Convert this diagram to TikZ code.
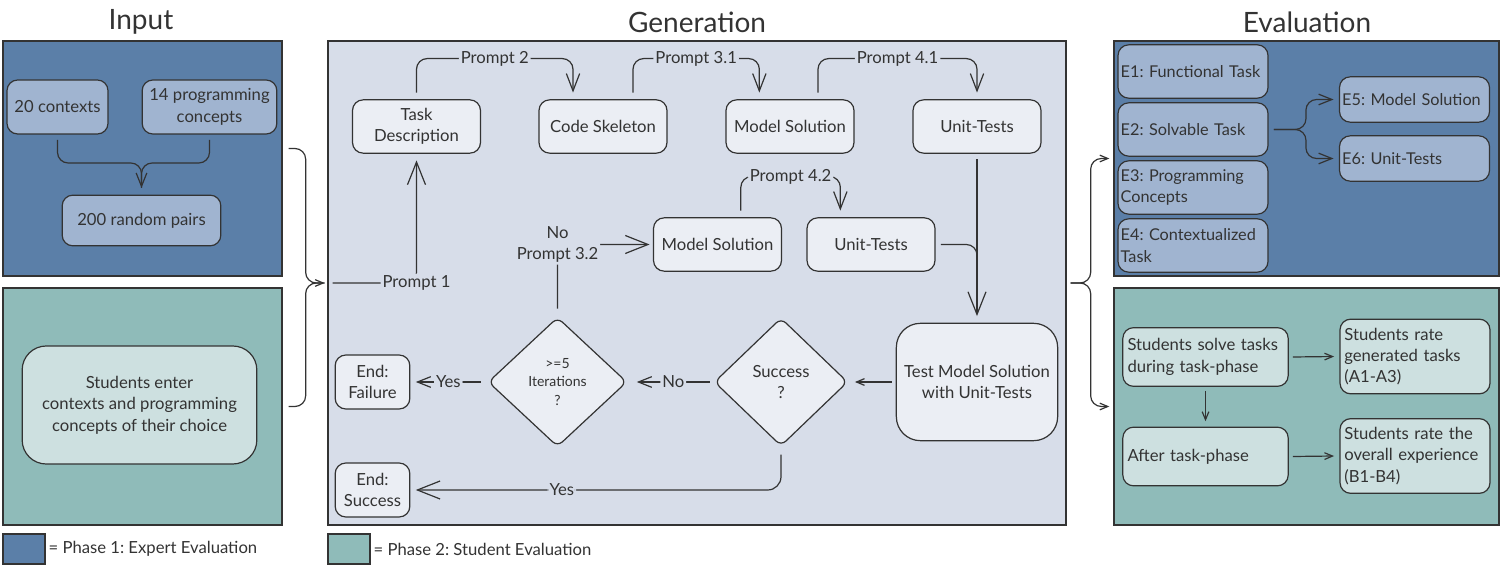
\documentclass[tikz,border=0pt]{standalone}
\usepackage{fontspec}
\setmainfont{Lato}
\usepackage{tikz}
\usetikzlibrary{arrows.meta}
\usetikzlibrary{shapes.geometric,positioning}

\definecolor{expblue}{HTML}{5B7FA8}
\definecolor{expnode}{HTML}{A0B4D0}
\definecolor{stuteal}{HTML}{8FBBB9}
\definecolor{stunode}{HTML}{CDE0E0}
\definecolor{genfill}{HTML}{D7DDE9}
\definecolor{gennode}{HTML}{EBEEF4}
\definecolor{ink}{HTML}{333333}

\tikzset{
    every node/.style={text=ink, font=\fontsize{12.5}{16}\selectfont},
    region/.style={draw=ink, line width=1pt, inner sep=0pt},
    rbox/.style={draw=ink, line width=0.9pt, rounded corners=8pt, align=center, inner sep=4pt},
    genbox/.style={rbox, fill=gennode, minimum width=96pt, minimum height=40pt},
    inbox/.style={rbox, fill=expnode, minimum height=40.5pt},
    evbox/.style={rbox, fill=expnode, minimum width=112.5pt, minimum height=40pt,
        font=\fontsize{12.2}{16}\selectfont, inner sep=2pt, text width=108.5pt, align=left},
    stubox/.style={rbox, fill=stunode, minimum width=124pt, minimum height=44pt,
        inner sep=3pt, text width=117pt, align=left},
    decide/.style={diamond, draw=ink, line width=0.9pt, fill=gennode,
        rounded corners=5pt, inner sep=0pt, align=center},
    lbl/.style={fill=genfill, inner sep=1.5pt},
    conn/.style={draw=ink, line width=0.9pt, rounded corners=8pt},
    hugetip/.style={-{Straight Barb[length=17pt,width=13.5pt]}},
    bigtip/.style={-{Straight Barb[length=13pt,width=10pt]}},
    midtip/.style={-{Straight Barb[length=10pt,width=8pt]}},
    smalltip/.style={-{Straight Barb[length=6pt,width=5pt]}},
    title/.style={font=\fontsize{21}{25}\selectfont},
}

\begin{document}
\frenchspacing
\begin{tikzpicture}[x=0.75pt,y=-0.75pt]
        \useasboundingbox (0,0) rectangle (1502,566);

        \node[title] (intitle) at (141,22) {Input};
        \node[title] (gentitle) at (697,22) {Generation};
        \node[title] (evtitle) at (1307,22) {Evaluation};

        \node[region, fill=expblue, minimum width=209.25pt, minimum height=176.25pt] (inexp) at (142.5,158.5) {};
        \node[region, fill=stuteal, minimum width=209.25pt, minimum height=177.75pt] (instu) at (142.5,406.5) {};
        \node[region, fill=genfill, minimum width=553.5pt, minimum height=363pt] (gen) at (697,283) {};
        \node[region, fill=expblue, minimum width=288.75pt, minimum height=176.25pt] (evexp) at (1306.5,158.5) {};
        \node[region, fill=stuteal, minimum width=288.75pt, minimum height=177.75pt] (evstu) at (1306.5,406.5) {};

        \node[inbox, minimum width=75.75pt] (ctx) at (57.5,107) {20 contexts};
        \node[inbox, minimum width=101pt] (concepts) at (209.5,107) {14 programming\\concepts};
        \node[inbox, minimum width=119pt, minimum height=38pt] (pairs) at (141.5,220.5) {200 random pairs};
        \coordinate (merge) at (141.5,163);
        \draw[conn] ([yshift=-4pt]ctx.south) |- (merge) -- ([yshift=5pt]pairs.north);
        \draw[conn, midtip] ([yshift=-4pt]concepts.south) |- (merge) -- ([yshift=5pt]pairs.north);
        \node[rbox, fill=stunode, rounded corners=18pt, minimum width=176pt, minimum height=88.5pt] (enter) at (139.5,405)
            {Students enter\\contexts and programming\\concepts of their choice};

        \draw[conn] ([xshift=4.5pt,yshift=7.5pt]inexp.east) -- ++(17,0) |- ([xshift=-2pt]gen.west);
        \draw[conn, smalltip] ([xshift=4.5pt]instu.east) -- ++(17,0) |- ([xshift=-2pt]gen.west);

        \foreach \nm/\x/\txt in {taskdesc/416.5/{Task\\Description}, skeleton/603/{Code Skeleton},
                modelsol/790/{Model Solution}, unittests/977/{Unit-Tests}}
            \node[genbox] (\nm) at (\x,126.5) {\txt};
        \node[genbox] (modelsolb) at (717.5,244.5) {Model Solution};
        \node[genbox] (unittestsb) at (871,244.5) {Unit-Tests};
        \node[rbox, fill=gennode, rounded corners=18pt, inner sep=2pt, minimum width=121pt, minimum height=88pt] (testbox) at (977,382)
            {Test Model Solution\\with Unit-Tests};
        \node[decide, minimum width=100pt, minimum height=96pt] (success) at (781,382) {Success\\?};
        \node[decide, minimum width=104pt, minimum height=97pt, font=\fontsize{10.5}{14}\selectfont] (iter) at (557.5,382)
            {>=5\\Iterations\\?};
        \node[genbox, minimum width=56pt, minimum height=40.5pt] (failure) at (372.5,382) {End:\\Failure};
        \node[genbox, minimum width=56pt, minimum height=40.5pt] (endsucc) at (372.5,490) {End:\\Success};

        \draw[conn, hugetip] ([xshift=4pt]gen.west) -| node[lbl, pos=0.5] {Prompt 1} ([yshift=-5pt]taskdesc.south);
        \draw[conn, bigtip] ([yshift=5pt]taskdesc.north) -- ++(0,-34)
            -| node[lbl, pos=0.25] {Prompt 2} ([xshift=-22.5pt,yshift=5pt]skeleton.north);
        \draw[conn, bigtip] ([xshift=22.5pt,yshift=5pt]skeleton.north) -- ++(0,-34)
            -| node[lbl, pos=0.25] {Prompt 3.1} ([xshift=-23pt,yshift=5pt]modelsol.north);
        \draw[conn, bigtip] ([xshift=21pt,yshift=5pt]modelsol.north) -- ++(0,-34)
            -| node[lbl, pos=0.25] {Prompt 4.1} ([yshift=5pt]unittests.north);
        \draw[conn, bigtip] ([xshift=17.5pt,yshift=5pt]modelsolb.north) -- ++(0,-34)
            -| node[lbl, pos=0.25] {Prompt 4.2} ([xshift=-23pt,yshift=5pt]unittestsb.north);
        \draw[conn, hugetip] ([yshift=6pt]iter.north) |- node[lbl, pos=0.5, align=center] {No\\Prompt 3.2} ([xshift=-2.5pt]modelsolb.west);
        \draw[conn, hugetip] ([yshift=-4pt]unittests.south) -- ([yshift=5pt]testbox.north);
        \draw[conn] ([xshift=4pt]unittestsb.east) -| ([yshift=20pt]testbox.north);
        \draw[conn, smalltip] ([xshift=-3pt]testbox.west) -- ([xshift=5pt]success.east);
        \draw[conn, midtip] ([xshift=-3pt]success.west) -- node[lbl] {No} ([xshift=7pt]iter.east);
        \draw[conn, midtip] ([xshift=-5pt]iter.west) -- node[lbl] {Yes} ([xshift=4pt]failure.east);
        \draw[conn, hugetip, rounded corners=10pt] ([yshift=-6pt]success.south) |- node[lbl, pos=0.8] {Yes} ([xshift=4pt]endsucc.east);

        \draw[conn, smalltip] ([xshift=3pt]gen.east) -- ++(20,0) |- ([xshift=-3pt]evexp.west);
        \draw[conn, smalltip] ([xshift=3pt]gen.east) -- ++(20,0) |- ([xshift=-3pt]evstu.west);

        \foreach \i/\y/\txt in {1/71.5/{E1: Functional Task}, 2/129.5/{E2: Solvable Task},
                3/187.5/{E3: Programming\\Concepts}, 4/245.5/{E4: Contextualized\\Task}}
            \node[evbox] (e\i) at (1193,\y) {\txt};
        \node[evbox, minimum width=112pt, minimum height=34pt] (e5) at (1414.5,99.5) {E5: Model Solution};
        \node[evbox, minimum width=112pt, minimum height=34pt] (e6) at (1414.5,158.5) {E6: Unit-Tests};
        \draw[conn, midtip] ([xshift=4pt]e2.east) -- ++(32,0) |- ([xshift=-4pt]e5.west);
        \draw[conn, midtip] ([xshift=4pt]e2.east) -- ++(32,0) |- ([xshift=-4pt]e6.west);

        \node[stubox] (solve) at (1205.5,357) {Students solve tasks\\during task-phase};
        \node[stubox] (after) at (1205.5,456.5) {After task-phase};
        \node[stubox, minimum width=112.5pt, minimum height=56pt, text width=106pt] (ratea) at (1415,356.5)
            {Students rate\\generated tasks\\(A1-A3)};
        \node[stubox, minimum width=112.5pt, minimum height=56pt, text width=106pt] (rateb) at (1415,456)
            {Students rate the\\overall experience\\(B1-B4)};
        \draw[conn, smalltip] ([xshift=3pt]solve.east) -- ([xshift=-4pt]ratea.west);
        \draw[conn, smalltip] ([xshift=3pt]after.east) -- ([xshift=-4pt]rateb.west);
        \draw[conn, smalltip] ([yshift=-3pt]solve.south) -- ([yshift=4pt]after.north);

        \node[region, fill=expblue, minimum width=31.5pt, minimum height=22.5pt] (legexp) at (24,549) {};
        \node[right=1pt of legexp, inner sep=1pt] (legexptxt) {= Phase 1: Expert Evaluation};
        \node[region, fill=stuteal, minimum width=31.5pt, minimum height=22.5pt] (legstu) at (349,549) {};
        \node[right=1pt of legstu, inner sep=1pt] (legstutxt) {= Phase 2: Student Evaluation};
    \end{tikzpicture}
\end{document}
